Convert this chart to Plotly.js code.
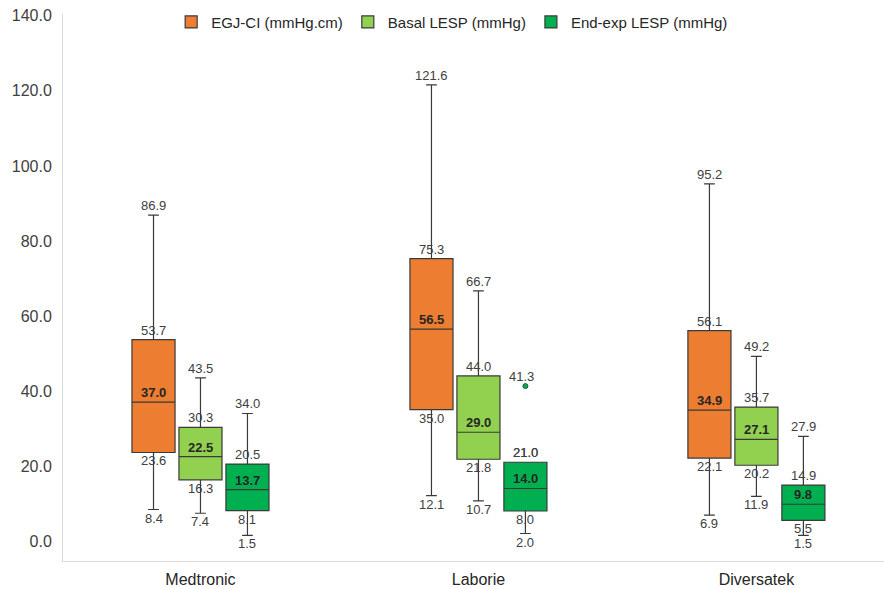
<!DOCTYPE html>
<html>
<head>
<meta charset="utf-8">
<script src="https://cdn.plot.ly/plotly-3.0.1.min.js"></script>
<style>html,body{margin:0;padding:0;background:#fff;}#chart{width:884px;height:589px;}</style>
</head>
<body>
<div id="chart"></div>
<script>
// ---- data ----
var categories = ['Medtronic', 'Laborie', 'Diversatek'];
var seriesNames = ['EGJ-CI (mmHg.cm)', 'Basal LESP (mmHg)', 'End-exp LESP (mmHg)'];

var egjMin    = [8.4, 12.1, 6.9];
var egjQ1     = [23.6, 35.0, 22.1];
var egjMedian = [37.0, 56.5, 34.9];
var egjQ3     = [53.7, 75.3, 56.1];
var egjMax    = [86.9, 121.6, 95.2];

var basalMin    = [7.4, 10.7, 11.9];
var basalQ1     = [16.3, 21.8, 20.2];
var basalMedian = [22.5, 29.0, 27.1];
var basalQ3     = [30.3, 44.0, 35.7];
var basalMax    = [43.5, 66.7, 49.2];

var endMin    = [1.5, 2.0, 1.5];
var endQ1     = [8.1, 8.0, 5.5];
var endMedian = [13.7, 14.0, 9.8];
var endQ3     = [20.5, 21.0, 14.9];
var endMax    = [34.0, 21.0, 27.9];

var outlierCategory = ['Laborie'];
var outlierValue = [41.3];

var yTicks = [0, 20, 40, 60, 80, 100, 120, 140];

// ---- styling / layout helpers ----
var colors = ['#ED7D31', '#92D050', '#00B050'];
var offsets = [-0.169, 0, 0.169];
var boxWidth = 0.155;
var lineColor = '#3a3a3a';
var labelColor = '#404040';

var stats = [
  {min: egjMin, q1: egjQ1, med: egjMedian, q3: egjQ3, max: egjMax},
  {min: basalMin, q1: basalQ1, med: basalMedian, q3: basalQ3, max: basalMax},
  {min: endMin, q1: endQ1, med: endMedian, q3: endQ3, max: endMax}
];

var catIndex = categories.map(function (c, i) { return i; });
var traces = [];
var annotations = [];

function ann(x, y, v, above, bold, xshift) {
  annotations.push({
    x: x, y: y, xref: 'x', yref: 'y',
    text: bold ? '<b>' + v.toFixed(1) + '</b>' : v.toFixed(1),
    showarrow: false,
    xanchor: 'center',
    yanchor: above ? 'bottom' : 'top',
    yshift: above ? 0 : 1,
    xshift: xshift || 0,
    font: {family: 'Liberation Sans, Arial, sans-serif', size: 13, color: bold ? '#262626' : labelColor}
  });
}

stats.forEach(function (s, k) {
  var xs = catIndex.map(function (i) { return i + offsets[k]; });
  traces.push({
    type: 'box',
    name: seriesNames[k],
    x: xs,
    q1: s.q1, median: s.med, q3: s.q3,
    lowerfence: s.min, upperfence: s.max,
    width: boxWidth,
    whiskerwidth: 0.25,
    fillcolor: colors[k],
    line: {color: lineColor, width: 1.2},
    marker: {color: colors[k]},
    boxpoints: false,
    hoverinfo: 'skip'
  });
  xs.forEach(function (x, i) {
    ann(x, s.max[i], s.max[i], true, false);
    ann(x, s.q3[i], s.q3[i], true, false);
    ann(x, s.med[i], s.med[i], true, true);
    ann(x, s.q1[i], s.q1[i], false, false);
    ann(x, s.min[i], s.min[i], false, false);
  });
});

// outlier
var outX = outlierCategory.map(function (c) { return categories.indexOf(c) + offsets[2]; });
traces.push({
  type: 'scatter', mode: 'markers',
  x: outX, y: outlierValue,
  marker: {size: 5, color: '#00B050', line: {color: '#1d5e38', width: 1}},
  showlegend: false, hoverinfo: 'skip'
});
outX.forEach(function (x, i) { ann(x, outlierValue[i], outlierValue[i], true, false, -4); });

var layout = {
  width: 884, height: 589,
  margin: {l: 63, r: 0, t: 14, b: 28},
  paper_bgcolor: '#ffffff', plot_bgcolor: '#ffffff',
  showlegend: true,
  boxmode: 'overlay',
  legend: {
    orientation: 'h', x: 0.474, xanchor: 'center', y: 0.985, yanchor: 'middle',
    font: {family: 'Liberation Sans, Arial, sans-serif', size: 15, color: '#262626'},
    bgcolor: 'rgba(0,0,0,0)'
  },
  xaxis: {
    type: 'linear',
    range: [-0.4946, 2.459],
    tickvals: catIndex, ticktext: categories,
    showline: true, linecolor: '#d9d9d9', linewidth: 1,
    showgrid: false, zeroline: false,
    ticks: 'outside', ticklen: 4, tickcolor: 'rgba(0,0,0,0)',
    tickfont: {family: 'Liberation Sans, Arial, sans-serif', size: 16, color: '#262626'},
    fixedrange: true
  },
  yaxis: {
    range: [-5.33, 140.5],
    tickvals: yTicks, ticktext: yTicks.map(function (v) { return v.toFixed(1); }),
    showline: true, linecolor: '#d9d9d9', linewidth: 1,
    showgrid: false, zeroline: false,
    ticks: 'outside', ticklen: 7, tickcolor: 'rgba(0,0,0,0)',
    tickfont: {family: 'Liberation Sans, Arial, sans-serif', size: 16, color: '#404040'},
    fixedrange: true
  },
  annotations: annotations
};

Plotly.newPlot('chart', traces, layout, {displayModeBar: false, staticPlot: true});
</script>
</body>
</html>
